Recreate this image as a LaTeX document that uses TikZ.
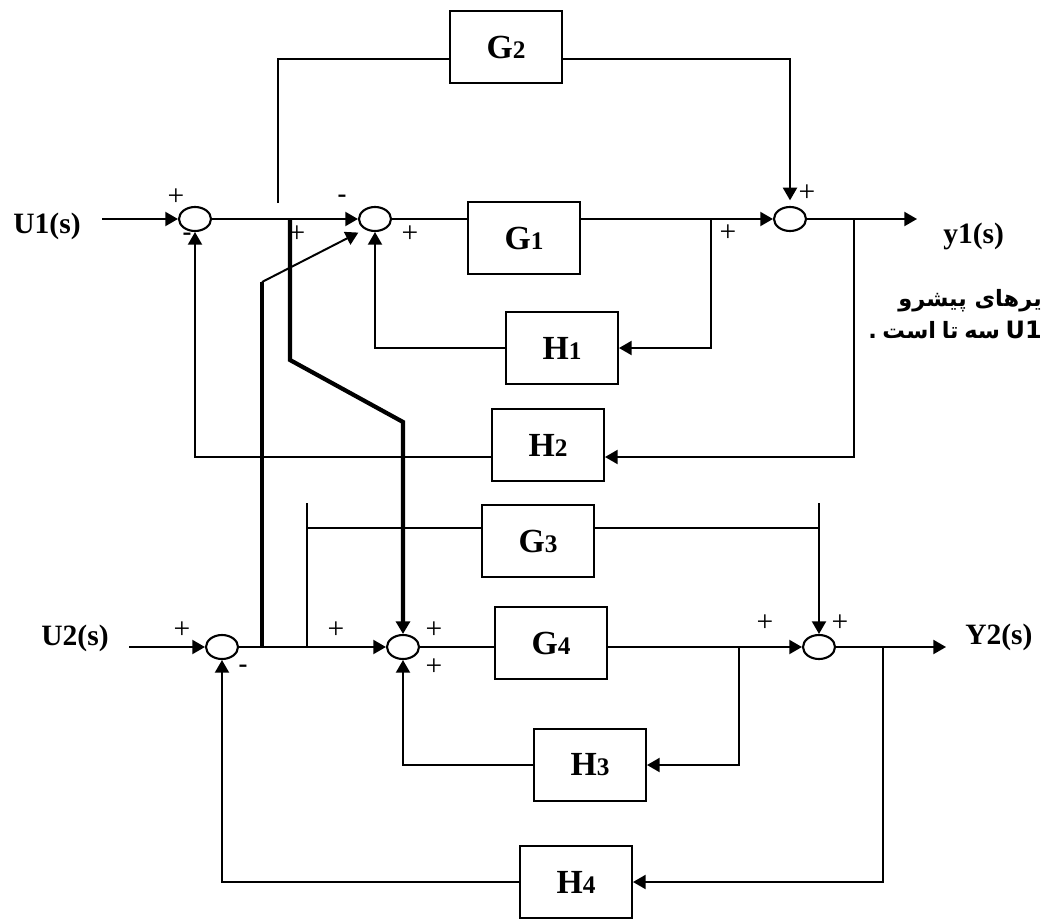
\documentclass[tikz,border=0pt]{standalone}
\usepackage{fontspec}
\setmainfont{Liberation Serif}
\newfontfamily\fa[Script=Arabic]{DejaVu Sans}
\newfontfamily\dvs{DejaVu Sans}
\TeXXeTstate=1
\usetikzlibrary{arrows.meta,shapes.geometric,calc}
\tikzset{
 ln/.style={line width=1.4pt},
 thk/.style={line width=3pt},
 arr/.style={-{Triangle[length=9pt,width=10pt]}},
 junc/.style={draw,ellipse,line width=1.5pt,minimum width=0.8cm,minimum height=0.6cm,inner sep=0pt},
 blk/.style={draw,line width=1.4pt,minimum width=2.8cm,minimum height=1.8cm,inner sep=0pt,font=\bfseries\fontsize{24pt}{24pt}\selectfont},
 sig/.style={font=\bfseries\fontsize{21pt}{21pt}\selectfont,inner sep=0pt},
 pl/.style={font=\fontsize{21pt}{21pt}\selectfont,inner sep=0pt},
 mi/.style={font=\bfseries\fontsize{19pt}{19pt}\selectfont,inner sep=0pt},
 fatxt/.style={anchor=east,inner sep=0pt,font=\fa\bfseries\fontsize{16pt}{16pt}\selectfont},
}
\newcommand\sm[1]{{\fontsize{18pt}{18pt}\selectfont #1}}
\begin{document}
\begin{tikzpicture}[x=0.025cm,y=-0.025cm]
\useasboundingbox (0,0) rectangle (1046,920);
% summing junctions
\node[junc] (j1) at (195,219) {};
\node[junc] (j2) at (375,219) {};
\node[junc] (j3) at (790,219) {};
\node[junc] (j4) at (222,647) {};
\node[junc] (j5) at (403,647) {};
\node[junc] (j6) at (819,647) {};
% blocks
\node[blk] (G2) at (506,47) {G\sm{2}};
\node[blk] (G1) at (524,238) {G\sm{1}};
\node[blk] (H1) at (562,348) {H\sm{1}};
\node[blk] (H2) at (548,445) {H\sm{2}};
\node[blk] (G3) at (538,541) {G\sm{3}};
\node[blk] (G4) at (551,643) {G\sm{4}};
\node[blk] (H3) at (590,765) {H\sm{3}};
\node[blk] (H4) at (576,882) {H\sm{4}};
% signals
\node[sig] (U1) at (47,226) {U1(s)};
\node[sig,anchor=west] (Y1) at (943,236) {y1(s)};
\node[sig] (U2) at (75,638) {U2(s)};
\node[sig,anchor=west] (Y2) at (965,637) {Y2(s)};
% coordinates
\coordinate (u1s) at (102,219);
\coordinate (b2) at (278,203);
\coordinate (g2y) at (278,59);
\coordinate (y1e) at (917,219);
\coordinate (bH1) at (711,219);
\coordinate (bH2) at (854,219);
\coordinate (h2y) at (854,457);
\coordinate (t1) at (290,219);
\coordinate (t2) at (290,360);
\coordinate (t3) at (403,422);
\coordinate (t4) at (262,647);
\coordinate (t5) at (262,282);
\coordinate (u2s) at (129,647);
\coordinate (g3b) at (307,647);
\coordinate (g3t) at (307,503);
\coordinate (g3y) at (307,528);
\coordinate (g3r) at (819,503);
\coordinate (y2e) at (946,647);
\coordinate (bH3) at (739,647);
\coordinate (bH4) at (883,647);
% top loop
\draw[ln,arr] (u1s) -- (j1.west);
\draw[ln,arr] (j1.east) -- (j2.west);
\draw[ln] (b2) -- (g2y) -- (g2y -| G2.west);
\draw[ln,arr,shorten >=4pt] (g2y -| G2.east) -- (g2y -| j3) -- (j3.north);
\draw[ln] (j2.east) -- (j2.east -| G1.west);
\draw[ln,arr] (G1.east |- j3) -- (j3.west);
\draw[ln,arr] (j3.east) -- (y1e);
\draw[ln,arr] (bH1) |- (H1.east);
\draw[ln,arr] (H1.west) -| (j2.south);
\draw[ln,arr] (bH2) -- (h2y) -- (h2y -| H2.east);
\draw[ln,arr] (h2y -| H2.west) -| (j1.south);
% cross couplings
\draw[thk,arr] (t1) -- (t2) -- (t3) -- (j5.north);
\draw[thk] (t4) -- (t5);
\draw[ln,arr,shorten >=5pt] (t5) -- (j2.225);
% bottom loop
\draw[ln,arr] (u2s) -- (j4.west);
\draw[ln,arr] (j4.east) -- (j5.west);
\draw[ln] (g3b) -- (g3t);
\draw[ln] (g3y) -- (g3y -| G3.west);
\draw[ln] (g3y -| G3.east) -- (g3y -| j6);
\draw[ln,arr] (g3r) -- (j6.north);
\draw[ln] (j5.east) -- (j5.east -| G4.west);
\draw[ln,arr] (G4.east |- j6) -- (j6.west);
\draw[ln,arr] (j6.east) -- (y2e);
\draw[ln,arr] (bH3) |- (H3.east);
\draw[ln,arr] (H3.west) -| (j5.south);
\draw[ln,arr] (bH4) |- (H4.east);
\draw[ln,arr] (H4.west) -| (j4.south);
% signs
\node[pl] (s1) at (176,197) {+};
\node[mi] (s2) at (187,237) {-};
\node[mi] (s3) at (342,199) {-};
\node[pl] (s4) at (297,234) {+};
\node[pl] (s5) at (410,234) {+};
\node[pl] (s6) at (807,193) {+};
\node[pl] (s7) at (728,233) {+};
\node[pl] (s8) at (182,630) {+};
\node[mi] (s9) at (243,669) {-};
\node[pl] (s10) at (336,630) {+};
\node[pl] (s11) at (434,630) {+};
\node[pl] (s12) at (434,667) {+};
\node[pl] (s13) at (765,623) {+};
\node[pl] (s14) at (840,623) {+};
% persian text
\node[fatxt] (p1) at (1042,301) {\beginR یرهای پیشرو\endR};
\node[fatxt] (p2) at (1042,330) {\beginR{\dvs\fontsize{17pt}{17pt}\selectfont\beginL U1\endL}\hspace{4pt}سه\hspace{4pt}تا\hspace{4pt}است\hspace{4pt}.\endR};
\end{tikzpicture}
\end{document}
